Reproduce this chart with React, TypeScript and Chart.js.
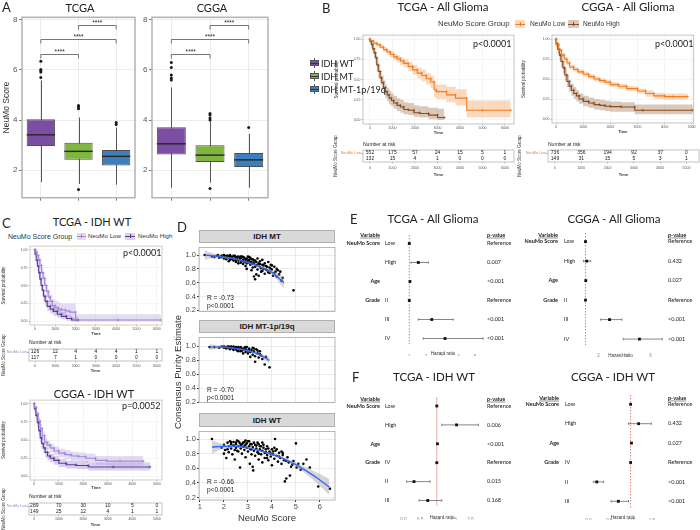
import React, { useEffect, useRef } from 'react';
import { Chart, registerables } from 'chart.js';

Chart.register(...registerables);

const SANS = '"Liberation Sans", Arial, sans-serif';
const CAL = 'Lato, "Open Sans", sans-serif';
Chart.defaults.font.family = SANS;

/* ---------------- Panel A: NeuMo score box plots ---------------- */
const groups = ['IDH WT', 'IDH MT', 'IDH MT-1p/19q'];
const groupColors = ['#7b4ea4', '#80b53f', '#3c7fbd'];
const scoreTicks = [2, 4, 6, 8];
const tcgaQ1 = [2.96, 2.41, 2.19];
const tcgaMedian = [3.41, 2.75, 2.55];
const tcgaQ3 = [4.03, 3.09, 2.8];
const tcgaLowWhisker = [1.52, 1.45, 1.42];
const tcgaHighWhisker = [5.58, 4.1, 3.7];
const tcgaOutlierGroup = ['IDH WT', 'IDH WT', 'IDH WT', 'IDH WT', 'IDH WT', 'IDH MT', 'IDH MT', 'IDH MT', 'IDH MT', 'IDH MT-1p/19q', 'IDH MT-1p/19q'];
const tcgaOutlierValue = [5.7, 5.92, 5.97, 6.02, 6.35, 4.45, 4.52, 4.58, 1.23, 3.82, 3.9];
const cggaQ1 = [2.62, 2.32, 2.13];
const cggaMedian = [3.05, 2.6, 2.41];
const cggaQ3 = [3.71, 2.99, 2.68];
const cggaLowWhisker = [1.3, 1.5, 1.3];
const cggaHighWhisker = [5.3, 3.95, 3.45];
const cggaOutlierGroup = ['IDH WT', 'IDH WT', 'IDH WT', 'IDH WT', 'IDH WT', 'IDH MT', 'IDH MT', 'IDH MT', 'IDH MT', 'IDH MT', 'IDH MT-1p/19q'];
const cggaOutlierValue = [5.6, 5.68, 5.8, 6.1, 6.3, 4.0, 4.08, 4.2, 4.26, 1.27, 3.7];
const bracketFrom = [0, 0, 1];
const bracketTo = [1, 2, 2];
const bracketLevel = [6.62, 7.22, 7.81];
const bracketLabel = ['****', '****', '****'];

/* ---------------- Panels B/C: Kaplan-Meier ---------------- */
const survTicks = [0, 0.25, 0.5, 0.75, 1];
const timeTicks6 = [0, 1000, 2000, 3000, 4000, 5000, 6000];
const timeTicks5 = [0, 1000, 2000, 3000, 4000, 5000];
const riskRows = ['NeuMo Low', 'NeuMo High'];

const bTcgaLowTime = [0, 150, 300, 450, 600, 750, 900, 1050, 1200, 1350, 1500, 1700, 1900, 2100, 2300, 2500, 2700, 2850, 2950, 3400, 3800, 4300, 5000, 6250];
const bTcgaLowSurv = [1, 0.98, 0.95, 0.93, 0.9, 0.87, 0.84, 0.81, 0.78, 0.755, 0.73, 0.7, 0.66, 0.62, 0.58, 0.55, 0.51, 0.47, 0.37, 0.35, 0.31, 0.27, 0.12, 0.12];
const bTcgaLowUpper = [1, 0.99, 0.97, 0.95, 0.93, 0.9, 0.87, 0.85, 0.82, 0.8, 0.78, 0.75, 0.72, 0.68, 0.65, 0.62, 0.58, 0.55, 0.46, 0.44, 0.41, 0.38, 0.24, 0.24];
const bTcgaLowLower = [1, 0.97, 0.93, 0.91, 0.88, 0.84, 0.81, 0.77, 0.74, 0.71, 0.68, 0.65, 0.6, 0.56, 0.51, 0.48, 0.44, 0.39, 0.28, 0.26, 0.22, 0.18, 0.03, 0.03];
const bTcgaHighTime = [0, 60, 120, 180, 240, 300, 370, 450, 520, 600, 680, 760, 850, 950, 1050, 1200, 1350, 1500, 1700, 1950, 2200, 2600, 3000, 3300];
const bTcgaHighSurv = [1, 0.97, 0.93, 0.88, 0.83, 0.77, 0.68, 0.6, 0.52, 0.46, 0.4, 0.35, 0.31, 0.27, 0.24, 0.21, 0.18, 0.16, 0.13, 0.12, 0.09, 0.08, 0.06, 0.03];
const bTcgaHighUpper = [1, 0.99, 0.97, 0.93, 0.89, 0.84, 0.76, 0.68, 0.61, 0.55, 0.49, 0.44, 0.4, 0.36, 0.33, 0.3, 0.27, 0.25, 0.22, 0.21, 0.18, 0.17, 0.15, 0.14];
const bTcgaHighLower = [1, 0.94, 0.89, 0.83, 0.77, 0.7, 0.6, 0.52, 0.44, 0.38, 0.32, 0.27, 0.23, 0.19, 0.17, 0.14, 0.11, 0.09, 0.07, 0.06, 0.04, 0.03, 0.01, 0];
const bTcgaRiskLow = [552, 175, 57, 24, 15, 5, 1];
const bTcgaRiskHigh = [132, 15, 4, 1, 0, 0, 0];

const bCggaLowTime = [0, 100, 200, 300, 400, 500, 650, 800, 1000, 1200, 1400, 1600, 1800, 2000, 2300, 2600, 3000, 3300, 3600, 4000, 4300, 4850];
const bCggaLowSurv = [1, 0.93, 0.86, 0.8, 0.75, 0.7, 0.65, 0.62, 0.59, 0.56, 0.53, 0.5, 0.48, 0.46, 0.43, 0.41, 0.38, 0.35, 0.32, 0.29, 0.28, 0.28];
const bCggaLowUpper = [1, 0.95, 0.89, 0.83, 0.78, 0.73, 0.68, 0.65, 0.62, 0.59, 0.56, 0.53, 0.51, 0.49, 0.46, 0.44, 0.41, 0.38, 0.36, 0.33, 0.32, 0.32];
const bCggaLowLower = [1, 0.91, 0.83, 0.77, 0.72, 0.67, 0.62, 0.59, 0.56, 0.53, 0.5, 0.47, 0.45, 0.43, 0.4, 0.38, 0.35, 0.32, 0.28, 0.25, 0.24, 0.24];
const bCggaHighTime = [0, 60, 120, 180, 250, 320, 400, 480, 560, 650, 750, 850, 1000, 1200, 1400, 1600, 1800, 2000, 2400, 2900, 3200, 5040];
const bCggaHighSurv = [1, 0.94, 0.87, 0.8, 0.72, 0.64, 0.55, 0.47, 0.41, 0.36, 0.32, 0.29, 0.25, 0.22, 0.2, 0.18, 0.17, 0.16, 0.155, 0.15, 0.11, 0.11];
const bCggaHighUpper = [1, 0.98, 0.92, 0.86, 0.79, 0.71, 0.63, 0.55, 0.49, 0.44, 0.4, 0.36, 0.32, 0.29, 0.27, 0.25, 0.24, 0.23, 0.22, 0.21, 0.18, 0.18];
const bCggaHighLower = [1, 0.9, 0.82, 0.74, 0.65, 0.57, 0.48, 0.4, 0.34, 0.29, 0.25, 0.22, 0.19, 0.16, 0.14, 0.12, 0.11, 0.1, 0.09, 0.09, 0.06, 0.06];
const bCggaRiskLow = [736, 356, 194, 92, 37, 0];
const bCggaRiskHigh = [149, 31, 15, 5, 3, 1];

const cTcgaLowTime = [0, 80, 160, 240, 320, 400, 480, 560, 650, 750, 850, 1000, 1150, 1300, 1500, 1700, 2000, 4100, 6200];
const cTcgaLowSurv = [1, 0.97, 0.92, 0.86, 0.78, 0.68, 0.6, 0.5, 0.42, 0.34, 0.28, 0.22, 0.19, 0.17, 0.16, 0.145, 0.13, 0.02, 0.02];
const cTcgaLowUpper = [1, 1, 0.97, 0.92, 0.85, 0.76, 0.68, 0.59, 0.51, 0.43, 0.37, 0.31, 0.28, 0.26, 0.25, 0.25, 0.25, 0.1, 0.1];
const cTcgaLowLower = [1, 0.93, 0.87, 0.8, 0.71, 0.61, 0.52, 0.42, 0.34, 0.27, 0.21, 0.15, 0.12, 0.1, 0.09, 0.07, 0.05, 0, 0];
const cTcgaHighTime = [0, 60, 120, 180, 240, 300, 360, 420, 500, 600, 750, 900, 1100, 1300, 1550, 1800, 2130];
const cTcgaHighSurv = [1, 0.94, 0.85, 0.77, 0.68, 0.59, 0.5, 0.43, 0.35, 0.28, 0.21, 0.17, 0.14, 0.1, 0.07, 0.04, 0.02];
const cTcgaHighUpper = [1, 0.98, 0.91, 0.84, 0.76, 0.67, 0.58, 0.51, 0.43, 0.36, 0.28, 0.24, 0.21, 0.17, 0.13, 0.09, 0.06];
const cTcgaHighLower = [1, 0.9, 0.79, 0.7, 0.61, 0.52, 0.43, 0.36, 0.28, 0.21, 0.15, 0.11, 0.08, 0.05, 0.03, 0.01, 0];
const cTcgaRiskLow = [126, 12, 4, 4, 4, 1, 1];
const cTcgaRiskHigh = [117, 7, 1, 0, 0, 0, 0];

const cCggaLowTime = [0, 80, 160, 240, 320, 420, 520, 650, 800, 1000, 1250, 1500, 1800, 2100, 2500, 2950, 3500, 4450];
const cCggaLowSurv = [1, 0.95, 0.86, 0.76, 0.66, 0.56, 0.47, 0.43, 0.39, 0.35, 0.32, 0.3, 0.28, 0.27, 0.25, 0.22, 0.21, 0.21];
const cCggaLowUpper = [1, 0.98, 0.9, 0.81, 0.72, 0.62, 0.53, 0.49, 0.45, 0.41, 0.38, 0.36, 0.34, 0.33, 0.31, 0.28, 0.28, 0.28];
const cCggaLowLower = [1, 0.92, 0.82, 0.71, 0.61, 0.5, 0.41, 0.37, 0.33, 0.29, 0.26, 0.24, 0.22, 0.21, 0.19, 0.16, 0.15, 0.15];
const cCggaHighTime = [0, 60, 120, 180, 240, 300, 370, 440, 540, 650, 800, 1000, 1300, 1700, 2200, 3220, 4720];
const cCggaHighSurv = [1, 0.93, 0.84, 0.74, 0.63, 0.53, 0.45, 0.39, 0.33, 0.28, 0.25, 0.22, 0.18, 0.16, 0.15, 0.13, 0.13];
const cCggaHighUpper = [1, 0.97, 0.89, 0.8, 0.7, 0.6, 0.52, 0.46, 0.4, 0.35, 0.31, 0.28, 0.24, 0.22, 0.21, 0.19, 0.19];
const cCggaHighLower = [1, 0.89, 0.79, 0.68, 0.57, 0.46, 0.38, 0.32, 0.26, 0.22, 0.19, 0.16, 0.13, 0.11, 0.1, 0.08, 0.08];
const cCggaRiskLow = [289, 70, 30, 10, 5, 0];
const cCggaRiskHigh = [149, 25, 12, 4, 1, 1];

/* ---------------- Panel D: purity vs NeuMo score ---------------- */
const purityTicks = [0.2, 0.4, 0.6, 0.8, 1.0];
const scoreXTicks = [1, 2, 3, 4, 5, 6];
const dMtX = [1.2, 1.5, 1.6, 1.7, 1.8, 1.85, 1.9, 1.95, 2.0, 2.05, 2.1, 2.1, 2.15, 2.2, 2.2, 2.25, 2.3, 2.3, 2.35, 2.4, 2.4, 2.45, 2.5, 2.5, 2.55, 2.6, 2.6, 2.6, 2.65, 2.7, 2.7, 2.75, 2.8, 2.8, 2.85, 2.9, 2.9, 2.95, 2.95, 3.0, 3.0, 3.05, 3.1, 3.1, 3.15, 3.15, 3.2, 3.2, 3.25, 3.25, 3.3, 3.3, 3.35, 3.35, 3.4, 3.4, 3.45, 3.45, 3.5, 3.5, 3.55, 3.6, 3.6, 3.65, 3.7, 3.7, 3.75, 3.8, 3.85, 3.9, 3.9, 3.95, 4.0, 4.05, 4.1, 4.15, 4.2, 4.3, 4.45, 4.9,
  1.75, 1.9, 2.0, 2.1, 2.2, 2.25, 2.35, 2.45, 2.5, 2.55, 2.65, 2.7, 2.75, 2.8, 2.85, 2.9, 2.95, 3.0, 3.05, 3.1, 3.15, 3.2, 3.25, 3.3, 3.35, 3.4, 3.5, 3.55, 3.6, 3.65, 3.75, 3.8, 3.85, 3.95, 4.0, 4.1, 4.2, 4.25, 4.35, 4.4];
const dMtY = [1.0, 0.98, 0.97, 0.99, 0.96, 0.98, 0.97, 0.99, 0.95, 0.98, 0.97, 0.94, 0.99, 0.96, 0.91, 0.93, 0.98, 0.95, 0.97, 0.92, 0.99, 0.95, 0.97, 0.9, 0.94, 0.98, 0.92, 0.88, 0.96, 0.89, 0.95, 0.98, 0.93, 0.87, 0.96, 0.91, 0.84, 0.95, 0.8, 0.98, 0.89, 0.93, 0.86, 0.96, 0.9, 0.78, 0.82, 0.94, 0.69, 0.88, 0.65, 0.92, 0.85, 0.72, 0.79, 0.95, 0.88, 0.7, 0.83, 0.91, 0.76, 0.86, 0.93, 0.8, 0.88, 0.73, 0.84, 0.78, 0.9, 0.82, 0.74, 0.86, 0.79, 0.7, 0.83, 0.76, 0.8, 0.72, 0.67, 0.49,
  1.0, 0.99, 1.0, 0.99, 0.98, 1.0, 0.94, 0.99, 0.93, 0.97, 0.93, 0.98, 0.91, 0.97, 0.9, 0.94, 0.88, 0.92, 0.97, 0.9, 0.94, 0.87, 0.92, 0.83, 0.9, 0.86, 0.87, 0.81, 0.77, 0.85, 0.79, 0.83, 0.75, 0.8, 0.85, 0.74, 0.69, 0.78, 0.76, 0.63];
const dMtFitX = [1.2, 1.5, 2, 2.5, 3, 3.5, 4, 4.5];
const dMtFitY = [1.0, 0.99, 0.97, 0.94, 0.89, 0.83, 0.75, 0.6];
const dMtFitUpper = [1.07, 1.03, 0.99, 0.955, 0.905, 0.85, 0.78, 0.68];
const dMtFitLower = [0.93, 0.95, 0.95, 0.925, 0.875, 0.81, 0.72, 0.52];

const dCodelX = [1.4, 1.6, 1.8, 1.9, 2.0, 2.05, 2.1, 2.15, 2.2, 2.25, 2.3, 2.35, 2.4, 2.45, 2.5, 2.5, 2.55, 2.6, 2.65, 2.7, 2.7, 2.75, 2.8, 2.85, 2.9, 2.9, 2.95, 3.0, 3.0, 3.05, 3.1, 3.15, 3.2, 3.2, 3.25, 3.3, 3.3, 3.35, 3.4, 3.45, 3.5, 3.55, 3.6, 3.7, 3.75, 3.9, 2.8, 2.6, 3.1, 2.4, 2.0, 2.3, 2.6, 2.9, 3.05, 3.25, 3.4, 3.5, 2.2, 2.75];
const dCodelY = [0.99, 0.99, 0.98, 1.0, 0.98, 0.99, 0.97, 1.0, 0.98, 0.96, 0.99, 0.97, 1.0, 0.98, 0.96, 0.99, 0.94, 0.98, 0.96, 0.99, 0.93, 0.97, 0.95, 0.98, 0.92, 0.96, 0.99, 0.94, 0.9, 0.97, 0.92, 0.95, 0.88, 0.98, 0.93, 0.86, 0.78, 0.96, 0.9, 0.84, 0.93, 0.87, 0.82, 0.74, 0.85, 0.7, 0.9, 0.93, 0.85, 0.95, 1.0, 1.0, 0.99, 0.99, 0.95, 0.97, 0.94, 0.89, 1.0, 0.94];
const dCodelFitX = [1.4, 2, 2.5, 3, 3.5, 3.9];
const dCodelFitY = [0.99, 0.99, 0.97, 0.94, 0.88, 0.8];
const dCodelFitUpper = [1.03, 1.005, 0.98, 0.952, 0.9, 0.85];
const dCodelFitLower = [0.95, 0.975, 0.96, 0.928, 0.86, 0.75];

const dWtX = [1.5, 1.9, 2.0, 2.05, 2.1, 2.15, 2.2, 2.2, 2.25, 2.3, 2.3, 2.35, 2.4, 2.4, 2.45, 2.5, 2.5, 2.55, 2.6, 2.6, 2.65, 2.67, 2.7, 2.7, 2.75, 2.8, 2.8, 2.85, 2.9, 2.9, 2.95, 3.0, 3.0, 3.05, 3.08, 3.1, 3.1, 3.15, 3.2, 3.22, 3.25, 3.3, 3.3, 3.35, 3.4, 3.4, 3.45, 3.5, 3.5, 3.55, 3.6, 3.6, 3.65, 3.7, 3.7, 3.75, 3.8, 3.8, 3.85, 3.9, 3.95, 4.0, 4.0, 4.05, 4.1, 4.13, 4.15, 4.2, 4.25, 4.3, 4.35, 4.4, 4.45, 4.5, 4.54, 4.6, 4.65, 4.7, 4.75, 4.8, 4.9, 5.0, 5.03, 5.1, 5.2, 5.31, 5.44, 5.58, 5.93, 6.42, 2.0, 2.45, 3.2, 2.9, 3.6,
  2.3, 2.5, 2.6, 2.75, 2.85, 2.95, 3.05, 3.15, 3.25, 3.35, 3.45, 3.55, 3.65, 3.75, 3.85, 3.95, 4.05, 4.2, 4.3, 4.45, 2.15, 2.55, 2.85, 3.15, 3.45, 3.8, 4.1, 4.4, 4.6, 4.85];
const dWtY = [1.0, 0.88, 0.92, 0.85, 0.74, 0.95, 0.9, 0.82, 0.97, 0.87, 0.93, 0.79, 0.91, 0.96, 0.85, 0.93, 0.88, 0.98, 0.9, 0.83, 0.95, 0.61, 0.87, 0.92, 0.8, 0.95, 0.89, 0.85, 0.92, 0.75, 0.88, 0.97, 0.83, 0.9, 0.66, 0.86, 0.93, 0.79, 0.89, 0.57, 0.84, 0.92, 0.77, 0.87, 0.82, 0.95, 0.72, 0.86, 0.9, 0.79, 0.84, 0.68, 0.88, 0.81, 0.74, 0.86, 0.78, 0.9, 0.71, 0.83, 0.76, 0.86, 0.64, 0.79, 0.73, 1.0, 0.84, 0.77, 0.69, 0.81, 0.74, 0.66, 0.78, 0.71, 0.42, 0.46, 0.75, 0.68, 0.5, 0.62, 0.7, 0.94, 0.61, 0.66, 0.58, 0.66, 0.72, 0.61, 0.35, 0.32, 0.8, 0.72, 0.62, 0.98, 0.95,
  0.96, 0.95, 0.97, 0.93, 0.96, 0.94, 0.97, 0.93, 0.95, 0.91, 0.93, 0.9, 0.92, 0.82, 0.87, 0.8, 0.83, 0.86, 0.76, 0.81, 0.86, 0.84, 0.9, 0.86, 0.8, 0.74, 0.88, 0.83, 0.7, 0.65];
const dWtFitX = [1.5, 2, 2.5, 3, 3.5, 4, 4.5, 5, 5.5, 6, 6.4];
const dWtFitY = [0.89, 0.9, 0.9, 0.88, 0.84, 0.79, 0.73, 0.65, 0.55, 0.44, 0.34];
const dWtFitUpper = [0.98, 0.93, 0.915, 0.893, 0.853, 0.805, 0.75, 0.68, 0.6, 0.52, 0.45];
const dWtFitLower = [0.8, 0.87, 0.885, 0.867, 0.827, 0.775, 0.71, 0.62, 0.5, 0.36, 0.23];

/* ---------------- Panels E/F: Cox forest plots ---------------- */
const forestVars = ['NeuMo Score', '', 'Age', 'Grade', '', ''];
const eTcgaLevels = ['Low', 'High', '', 'II', 'III', 'IV'];
const eTcgaHR = [1, 1.55, 1.04, 1, 2.37, 3.18];
const eTcgaLo = [null, 1.1, null, null, 1.55, 1.85];
const eTcgaHi = [null, 2.16, null, null, 3.68, 5.5];
const eTcgaP = ['Reference', '0.007', '<0.001', 'Reference', '<0.001', '<0.001'];
const eCggaLevels = ['Low', 'High', '', 'II', 'III', 'IV'];
const eCggaHR = [1, 1.1, 1.02, 1, 2.85, 5.15];
const eCggaLo = [null, 0.85, null, null, 2.17, 3.9];
const eCggaHi = [null, 1.4, null, null, 3.8, 6.9];
const eCggaP = ['Reference', '0.432', '0.027', 'Reference', '<0.001', '<0.001'];
const fTcgaLevels = ['Low', 'High', '', 'IV', 'II', 'III'];
const fTcgaHR = [1, 1.59, 1.02, 1, 0.32, 0.73];
const fTcgaLo = [null, 1.15, null, null, 0.1, 0.47];
const fTcgaHi = [null, 2.24, null, null, 0.8, 1.15];
const fTcgaP = ['Reference', '0.006', '<0.001', 'Reference', '0.015', '0.168'];
const fCggaLevels = ['Low', 'High', '', 'IV', 'II', 'III'];
const fCggaHR = [1, 1.19, 1.02, 1, 0.2, 0.71];
const fCggaLo = [null, 0.95, null, null, 0.12, 0.54];
const fCggaHi = [null, 1.49, null, null, 0.36, 0.95];
const fCggaP = ['Reference', '0.432', '0.027', 'Reference', '<0.001', '<0.001'];
const hrTicksE1 = [1, 2, 3, 4, 5];
const hrTicksE2 = [2, 4, 6];
const hrTicksF = [0, 0.5, 1, 1.5, 2];
const hrTicksF2 = [0, 0.5, 1, 1.5];

/* ---------------- helpers ---------------- */
function place(ax0: number, ay0: number, ax1: number, ay1: number, left: number, xh: number, top = 2, right = 2, padLeft = 0, bottom = 0) {
  return { x: ax0 - left - padLeft, y: ay0 - top, w: ax1 - ax0 + left + padLeft + right, h: ay1 - ay0 + top + xh + bottom, left, xh, top, right, padLeft, bottom };
}
const yFixed = (w: number) => (s: any) => { s.width = w; };
const xFixed = (h: number) => (s: any) => { s.height = h; };
const fixedTicks = (vals: number[]) => (s: any) => { s.ticks = vals.map((v) => ({ value: v })); };

function baseOptions(b: any) {
  return {
    animation: false,
    responsive: false,
    maintainAspectRatio: false,
    devicePixelRatio: 1,
    events: [],
    layout: { autoPadding: false, padding: { left: b.padLeft, top: b.top, right: b.right, bottom: b.bottom } },
    plugins: { legend: { display: false }, tooltip: { enabled: false }, title: { display: false } },
  };
}

function framePlugin(id: string, color: string, width: number) {
  return {
    id,
    afterDatasetsDraw(chart: any) {
      const { ctx, chartArea: a } = chart;
      ctx.save();
      ctx.strokeStyle = color;
      ctx.lineWidth = width;
      ctx.strokeRect(a.left, a.top, a.right - a.left, a.bottom - a.top);
      ctx.restore();
    },
  };
}

function boxPlugin(d: any) {
  return {
    id: 'boxExtras',
    beforeDatasetsDraw(chart: any) {
      const { ctx, scales } = chart;
      ctx.save();
      ctx.strokeStyle = '#555';
      ctx.lineWidth = 1;
      d.lo.forEach((v: number, i: number) => {
        const px = Math.round(scales.x.getPixelForValue(i)) + 0.5;
        ctx.beginPath();
        ctx.moveTo(px, scales.y.getPixelForValue(v));
        ctx.lineTo(px, scales.y.getPixelForValue(d.hi[i]));
        ctx.stroke();
      });
      ctx.restore();
    },
    afterDatasetsDraw(chart: any) {
      const { ctx, scales } = chart;
      const bars = chart.getDatasetMeta(1).data;
      ctx.save();
      ctx.strokeStyle = '#262626';
      ctx.lineWidth = 1.4;
      d.med.forEach((v: number, i: number) => {
        const b = bars[i];
        const py = scales.y.getPixelForValue(v);
        ctx.beginPath();
        ctx.moveTo(b.x - b.width / 2, py);
        ctx.lineTo(b.x + b.width / 2, py);
        ctx.stroke();
      });
      ctx.strokeStyle = '#555';
      ctx.lineWidth = 0.8;
      ctx.fillStyle = '#222';
      ctx.font = `6.5px ${SANS}`;
      ctx.textAlign = 'center';
      ctx.textBaseline = 'bottom';
      bracketLevel.forEach((lv, k) => {
        const x1 = scales.x.getPixelForValue(bracketFrom[k]);
        const x2 = scales.x.getPixelForValue(bracketTo[k]);
        const py = Math.round(scales.y.getPixelForValue(lv)) + 0.5;
        ctx.beginPath();
        ctx.moveTo(x1, py + 4);
        ctx.lineTo(x1, py);
        ctx.lineTo(x2, py);
        ctx.lineTo(x2, py + 4);
        ctx.stroke();
        ctx.fillText(bracketLabel[k], (x1 + x2) / 2, py + 0.5);
      });
      ctx.restore();
    },
  };
}

function boxConfig(b: any, d: any) {
  return {
    type: 'bar',
    data: {
      labels: groups,
      datasets: [
        { type: 'line', data: d.outG.map((g: string, i: number) => ({ x: g, y: d.outV[i] })), showLine: false, pointRadius: 1.5, pointBackgroundColor: '#1a1a1a', pointBorderWidth: 0 },
        { type: 'bar', data: d.q1.map((v: number, i: number) => [v, d.q3[i]]), backgroundColor: groupColors, borderColor: '#4f4f4f', borderWidth: 1, borderSkipped: false, barPercentage: 0.75, categoryPercentage: 1 },
      ],
    },
    options: {
      ...baseOptions(b),
      scales: {
        x: { type: 'category', offset: true, grid: { offset: false, color: '#ececec', tickLength: 3, tickColor: '#777' }, border: { display: false }, ticks: { callback: () => '', padding: 0 }, afterFit: xFixed(b.xh) },
        y: {
          type: 'linear', min: 0.9, max: 8.1, afterBuildTicks: fixedTicks(scoreTicks),
          ticks: { font: { family: SANS, size: 8 }, color: '#555', padding: 1.5 },
          grid: { color: '#ececec', tickLength: 3, tickColor: '#777' }, border: { display: false },
          title: { display: !!d.title, text: d.title || '', font: { family: SANS, size: 8.5 }, color: '#333', padding: { top: 1.5, bottom: 0 } },
          afterFit: yFixed(b.left),
        },
      },
    },
    plugins: [boxPlugin(d), framePlugin('frameA', '#b3b3b3', 1.5)],
  };
}

function timeAxis(b: any, d: any, pad: number) {
  return {
    type: 'linear', min: d.xmin, max: d.xmax, afterBuildTicks: fixedTicks(d.xticks),
    ticks: { font: { family: SANS, size: 3.5 }, color: '#555', padding: pad, autoSkip: false, maxRotation: 0, callback: (v: any) => String(v) },
    grid: { color: '#eeeeee', lineWidth: 0.6, tickLength: 1.5, tickColor: '#999' }, border: { display: false },
    title: { display: true, text: 'Time', font: { family: SANS, size: 4, weight: 'bold' }, color: '#333', padding: 0 },
    afterFit: xFixed(b.xh),
  };
}

function kmConfig(b: any, d: any) {
  const pts = (t: number[], v: number[]) => t.map((x, i) => ({ x, y: v[i] }));
  const curve = (t: number[], s: number[], c: string) => ({ data: pts(t, s), stepped: 'after', borderColor: c, borderWidth: 1.1, pointStyle: 'cross', pointRadius: 1.4, pointBorderColor: c, pointBorderWidth: 0.7, pointBackgroundColor: c, fill: false });
  const band = (t: number[], v: number[], fill: any, bg: string) => ({ data: pts(t, v), stepped: 'after', borderWidth: 0, borderColor: 'rgba(0,0,0,0)', pointRadius: 0, fill, backgroundColor: bg });
  return {
    type: 'line',
    data: {
      datasets: [
        curve(d.lowT, d.lowS, d.lowColor),
        curve(d.highT, d.highS, d.highColor),
        band(d.lowT, d.lowUp, false, 'rgba(0,0,0,0)'),
        band(d.lowT, d.lowLo, '-1', d.lowBand),
        band(d.highT, d.highUp, false, 'rgba(0,0,0,0)'),
        band(d.highT, d.highLo, '-1', d.highBand),
      ],
    },
    options: {
      ...baseOptions(b),
      scales: {
        x: timeAxis(b, d, d.tickPad),
        y: {
          type: 'linear', min: -0.05, max: 1.05, afterBuildTicks: fixedTicks(survTicks),
          ticks: { font: { family: SANS, size: 3.5 }, color: '#555', padding: 1, callback: (v: any) => Number(v).toFixed(2) },
          grid: { color: '#eeeeee', lineWidth: 0.6, tickLength: 1.5, tickColor: '#999' }, border: { display: false },
          title: { display: true, text: 'Survival probability', font: { family: SANS, size: 4.5 }, color: '#333', padding: { top: 1, bottom: 0 } },
          afterFit: yFixed(b.left),
        },
      },
    },
    plugins: [framePlugin('frameKM', d.frame, 0.8)],
  };
}

function riskPlugin(b: any, d: any) {
  return {
    id: 'riskText',
    afterDraw(chart: any) {
      const { ctx, chartArea: a } = chart;
      ctx.save();
      ctx.fillStyle = '#222';
      ctx.textAlign = 'center';
      ctx.textBaseline = 'middle';
      ctx.font = `5px ${SANS}`;
      [d.low, d.high].forEach((vals: number[], k: number) => {
        chart.getDatasetMeta(k).data.forEach((p: any, i: number) => ctx.fillText(String(vals[i]), p.x, p.y));
      });
      ctx.textAlign = 'left';
      ctx.font = `5px ${SANS}`;
      ctx.fillText('Number at risk', a.left, d.headY - b.y);
      ctx.translate(d.titleX - b.x, (a.top + a.bottom) / 2);
      ctx.rotate(-Math.PI / 2);
      ctx.textAlign = 'center';
      ctx.font = `4.5px ${SANS}`;
      ctx.fillStyle = '#333';
      ctx.fillText('NeuMo Score Group', 0, 0);
      ctx.restore();
    },
  };
}

function riskConfig(b: any, d: any) {
  return {
    type: 'scatter',
    data: {
      datasets: [
        { data: d.t.map((x: number) => ({ x, y: riskRows[0] })), pointRadius: 0 },
        { data: d.t.map((x: number) => ({ x, y: riskRows[1] })), pointRadius: 0 },
      ],
    },
    options: {
      ...baseOptions(b),
      scales: {
        x: timeAxis(b, d, d.tickPad),
        y: {
          type: 'category', labels: riskRows, offset: true,
          grid: { drawOnChartArea: false, tickLength: 1.5, tickColor: '#999' }, border: { display: false },
          ticks: { font: { family: SANS, size: 3.8 }, color: (c: any) => (c.index === 0 ? d.lowColor : d.highColor), padding: 0.5 },
          afterFit: yFixed(b.left),
        },
      },
    },
    plugins: [riskPlugin(b, d), framePlugin('frameRisk', '#b5b5b5', 0.8)],
  };
}

function scatterConfig(b: any, d: any) {
  const pts = d.px.map((x: number, i: number) => ({ x, y: d.py[i] }));
  const fit = (ys: number[]) => d.fx.map((x: number, i: number) => ({ x, y: ys[i] }));
  return {
    type: 'scatter',
    data: {
      datasets: [
        { type: 'line', data: fit(d.fy), borderColor: '#3366ff', borderWidth: 1.3, pointRadius: 0, cubicInterpolationMode: 'monotone', fill: false },
        { type: 'line', data: fit(d.fu), borderWidth: 0, borderColor: 'rgba(0,0,0,0)', pointRadius: 0, cubicInterpolationMode: 'monotone', fill: false },
        { type: 'line', data: fit(d.fl), borderWidth: 0, borderColor: 'rgba(0,0,0,0)', pointRadius: 0, cubicInterpolationMode: 'monotone', fill: '-1', backgroundColor: 'rgba(150,150,150,0.4)' },
        { data: pts, pointRadius: 1.3, backgroundColor: '#000', borderWidth: 0 },
      ],
    },
    options: {
      ...baseOptions(b),
      scales: {
        x: {
          type: 'linear', min: 0.96, max: 6.63, afterBuildTicks: fixedTicks(scoreXTicks),
          ticks: { display: d.showX, font: { family: SANS, size: 7.5 }, color: '#4d4d4d', padding: 0.2 },
          grid: { color: '#ebebeb', drawTicks: d.showX, tickLength: 2, tickColor: '#333' }, border: { display: false },
          title: { display: d.showX, text: 'NeuMo Score', font: { family: SANS, size: 9.5 }, color: '#333', padding: 0 },
          afterFit: xFixed(b.xh),
        },
        y: {
          type: 'linear', min: d.ymin, max: d.ymax, afterBuildTicks: fixedTicks(purityTicks),
          ticks: { font: { family: SANS, size: 7.5 }, color: '#4d4d4d', padding: 1, callback: (v: any) => Number(v).toFixed(1) },
          grid: { color: '#ebebeb', tickLength: 2, tickColor: '#333' }, border: { display: false },
          afterFit: yFixed(b.left),
        },
      },
    },
    plugins: [framePlugin('frameD', '#a6a6a6', 0.8)],
  };
}

function forestPlugin(b: any, d: any) {
  return {
    id: 'forestExtras',
    beforeDatasetsDraw(chart: any) {
      const { ctx, chartArea: a, scales } = chart;
      ctx.save();
      const rx = scales.x.getPixelForValue(1);
      ctx.strokeStyle = d.refColor;
      ctx.lineWidth = d.refWidth;
      ctx.setLineDash(d.refDash);
      ctx.beginPath();
      ctx.moveTo(rx, a.top);
      ctx.lineTo(rx, a.bottom);
      ctx.stroke();
      ctx.setLineDash([]);
      ctx.strokeStyle = '#555';
      ctx.lineWidth = 0.7;
      d.lo.forEach((l: any, i: number) => {
        if (l == null) return;
        const py = scales.y.getPixelForValue(i);
        const x1 = scales.x.getPixelForValue(l);
        const x2 = scales.x.getPixelForValue(d.hi[i]);
        ctx.beginPath();
        ctx.moveTo(x1, py); ctx.lineTo(x2, py);
        ctx.moveTo(x1, py - 1.2); ctx.lineTo(x1, py + 1.2);
        ctx.moveTo(x2, py - 1.2); ctx.lineTo(x2, py + 1.2);
        ctx.stroke();
      });
      ctx.restore();
    },
    afterDraw(chart: any) {
      const { ctx, scales } = chart;
      ctx.save();
      ctx.fillStyle = '#222';
      ctx.strokeStyle = '#222';
      ctx.lineWidth = 0.5;
      ctx.textBaseline = 'middle';
      const txt = (s: string, px: number, py: number, align: string, bold: boolean, under: boolean) => {
        ctx.font = `${bold ? 'bold ' : ''}5.5px ${CAL}`;
        ctx.textAlign = align;
        ctx.fillText(s, px, py);
        if (under) {
          const w = ctx.measureText(s).width;
          const x0 = align === 'right' ? px - w : px;
          ctx.beginPath();
          ctx.moveTo(x0, py + 3);
          ctx.lineTo(x0 + w, py + 3);
          ctx.stroke();
        }
      };
      txt('Variable', d.varX - b.x, d.headY - b.y, 'right', true, true);
      txt('p-value', d.pX - b.x, d.headY - b.y, 'left', true, true);
      forestVars.forEach((v, i) => {
        const py = scales.y.getPixelForValue(i);
        if (v) txt(v, d.varX - b.x, py, 'right', true, false);
        if (d.levels[i]) txt(d.levels[i], d.lvlX - b.x, py, 'left', false, false);
        txt(d.p[i], d.pX - b.x, py, 'left', false, false);
      });
      ctx.restore();
    },
  };
}

function forestConfig(b: any, d: any) {
  return {
    type: 'scatter',
    data: { datasets: [{ data: d.hr.map((h: number, i: number) => ({ x: h, y: i })), pointStyle: 'rect', pointRadius: 2, backgroundColor: '#111', borderWidth: 0 }] },
    options: {
      ...baseOptions(b),
      scales: {
        x: {
          type: 'linear', min: d.xmin, max: d.xmax, afterBuildTicks: fixedTicks(d.ticks),
          ticks: { font: { family: SANS, size: 4.5 }, color: '#888', padding: d.tickPad, autoSkip: false, maxRotation: 0, callback: (v: any) => d.fmt(v) },
          grid: { display: false }, border: { display: false },
          title: { display: true, text: 'Hazard ratio', font: { family: SANS, size: 4.5 }, color: '#333', padding: 0 },
          afterFit: xFixed(b.xh),
        },
        y: { type: 'linear', reverse: true, min: d.ymin, max: d.ymax, display: false },
      },
    },
    plugins: [forestPlugin(b, d)],
  };
}

/* ---------------- components ---------------- */
function ChartCanvas({ b, make }: any) {
  const ref = useRef<HTMLCanvasElement | null>(null);
  useEffect(() => {
    if (!ref.current) return undefined;
    const chart = new Chart(ref.current, make(b));
    return () => chart.destroy();
  }, []);
  return <canvas ref={ref} width={b.w} height={b.h} style={{ position: 'absolute', left: b.x, top: b.y, width: b.w, height: b.h }} />;
}

function Txt({ x, y, text, size = 10, family = CAL, color = '#222', weight = 400, align = 'left', rotate = false }: any) {
  const tx = align === 'center' ? '-50%' : align === 'right' ? '-100%' : '0';
  const transform = rotate ? 'translate(-50%,-50%) rotate(-90deg)' : `translate(${tx},-50%)`;
  return (
    <div style={{ position: 'absolute', left: x, top: y, transform, whiteSpace: 'nowrap', fontFamily: family, fontSize: size, lineHeight: 1, color, fontWeight: weight }}>{text}</div>
  );
}

function BoxKey({ x, y, color }: any) {
  return (
    <div style={{ position: 'absolute', left: x, top: y - 5, width: 9, height: 10 }}>
      <div style={{ position: 'absolute', left: 4, top: 0, width: 1, height: 10, background: '#555' }} />
      <div style={{ position: 'absolute', left: 0, top: 2, width: 9, height: 6, background: color, border: '1px solid #555', boxSizing: 'border-box' }} />
      <div style={{ position: 'absolute', left: 0, top: 4.5, width: 9, height: 1, background: '#333' }} />
    </div>
  );
}

function KmKey({ x, y, w, h, bg, color }: any) {
  return (
    <div style={{ position: 'absolute', left: x, top: y - h / 2, width: w, height: h, background: bg }}>
      <div style={{ position: 'absolute', left: 0, top: h / 2 - 0.5, width: w, height: 1, background: color }} />
      <div style={{ position: 'absolute', left: w / 2 - 0.5, top: h / 2 - 2, width: 1, height: 4, background: color }} />
    </div>
  );
}

function Strip({ y, h, text }: any) {
  return (
    <div style={{ position: 'absolute', left: 199, top: y, width: 136, height: h, background: '#d9d9d9', border: '0.8px solid #b0b0b0', boxSizing: 'border-box', display: 'flex', alignItems: 'center', justifyContent: 'center', fontFamily: SANS, fontSize: 8, fontWeight: 700, color: '#1a1a1a' }}>{text}</div>
  );
}

const orange = '#f47d20';
const orangeBand = 'rgba(247,170,110,0.45)';
const brown = '#8c4a1e';
const brownBand = 'rgba(160,120,85,0.4)';
const lilac = '#9f86d6';
const lilacBand = 'rgba(175,150,220,0.35)';
const violet = '#5a3d9a';
const violetBand = 'rgba(130,100,190,0.3)';

export default function App() {
  const bA1 = place(22, 13, 135, 200, 22, 4, 2, 2);
  const bA2 = place(152, 13, 268, 200, 12, 4, 2, 2);
  const bB1 = place(363, 34, 514, 124, 30, 11, 2, 2);
  const bB1r = place(363, 150, 514, 162, 30, 15, 18, 2, 0, 4);
  const bB2 = place(552, 34, 694, 123, 32, 11, 2, 2);
  const bB2r = place(548, 150, 699, 162, 32, 15, 18, 1, 0, 4);
  const bC1 = place(30, 245, 162, 325, 30, 11, 2, 2);
  const bC1r = place(29, 349, 162, 361, 29, 12, 18, 2, 0, 6);
  const bC2 = place(30, 399, 162, 480, 30, 10, 2, 2);
  const bC2r = place(29, 503, 162, 515, 29, 12, 18, 2, 0, 6);
  const bD1 = place(199, 243, 335, 317, 20, 0, 1, 2);
  const bD2 = place(199, 333, 335, 408, 20, 0, 1, 2);
  const bD3 = place(199, 427, 335, 500, 20, 24, 1, 2);
  const bE1 = place(401, 235, 485, 344, 0, 12, 11, 30, 65);
  const bE2 = place(576, 233, 665, 345, 0, 13, 11, 35, 58);
  const bF1 = place(400, 397, 484, 506, 0, 14, 11, 31, 64);
  const bF2 = place(584, 395, 662, 508, 0, 12, 11, 38, 66);
  const fmtInt = (v: number) => String(v);
  const fmt1 = (v: number) => Number(v).toFixed(1);
  const dotted = { refColor: '#e05a5a', refWidth: 0.8, refDash: [1.5, 1.5] };

  return (
    <div style={{ position: 'fixed', left: 0, top: 0, width: 700, height: 530, background: '#fff', overflow: 'hidden' }}>
      {/* A */}
      <ChartCanvas b={bA1} make={(b: any) => boxConfig(b, { q1: tcgaQ1, med: tcgaMedian, q3: tcgaQ3, lo: tcgaLowWhisker, hi: tcgaHighWhisker, outG: tcgaOutlierGroup, outV: tcgaOutlierValue, title: 'NeuMo Score' })} />
      <ChartCanvas b={bA2} make={(b: any) => boxConfig(b, { q1: cggaQ1, med: cggaMedian, q3: cggaQ3, lo: cggaLowWhisker, hi: cggaHighWhisker, outG: cggaOutlierGroup, outV: cggaOutlierValue, title: '' })} />
      {/* B */}
      <ChartCanvas b={bB1} make={(b: any) => kmConfig(b, { xmin: -311, xmax: 6400, xticks: timeTicks6, tickPad: 0.4, lowT: bTcgaLowTime, lowS: bTcgaLowSurv, lowUp: bTcgaLowUpper, lowLo: bTcgaLowLower, highT: bTcgaHighTime, highS: bTcgaHighSurv, highUp: bTcgaHighUpper, highLo: bTcgaHighLower, lowColor: orange, highColor: brown, lowBand: orangeBand, highBand: brownBand, frame: '#b5b5b5' })} />
      <ChartCanvas b={bB1r} make={(b: any) => riskConfig(b, { xmin: -311, xmax: 6400, xticks: timeTicks6, tickPad: 2.4, t: timeTicks6, low: bTcgaRiskLow, high: bTcgaRiskHigh, lowColor: orange, highColor: brown, headY: 145, titleX: 336 })} />
      <ChartCanvas b={bB2} make={(b: any) => kmConfig(b, { xmin: -150, xmax: 5075, xticks: timeTicks5, tickPad: 0.4, lowT: bCggaLowTime, lowS: bCggaLowSurv, lowUp: bCggaLowUpper, lowLo: bCggaLowLower, highT: bCggaHighTime, highS: bCggaHighSurv, highUp: bCggaHighUpper, highLo: bCggaHighLower, lowColor: orange, highColor: brown, lowBand: orangeBand, highBand: brownBand, frame: '#b5b5b5' })} />
      <ChartCanvas b={bB2r} make={(b: any) => riskConfig(b, { xmin: -266, xmax: 5475, xticks: timeTicks5, tickPad: 2.4, t: timeTicks5, low: bCggaRiskLow, high: bCggaRiskHigh, lowColor: orange, highColor: brown, headY: 145, titleX: 520 })} />
      {/* C */}
      <ChartCanvas b={bC1} make={(b: any) => kmConfig(b, { xmin: -246, xmax: 6256, xticks: timeTicks6, tickPad: 0, lowT: cTcgaLowTime, lowS: cTcgaLowSurv, lowUp: cTcgaLowUpper, lowLo: cTcgaLowLower, highT: cTcgaHighTime, highS: cTcgaHighSurv, highUp: cTcgaHighUpper, highLo: cTcgaHighLower, lowColor: lilac, highColor: violet, lowBand: lilacBand, highBand: violetBand, frame: '#cdbdb2' })} />
      <ChartCanvas b={bC1r} make={(b: any) => riskConfig(b, { xmin: -296, xmax: 6256, xticks: timeTicks6, tickPad: 1.4, t: timeTicks6, low: cTcgaRiskLow, high: cTcgaRiskHigh, lowColor: lilac, highColor: violet, headY: 343, titleX: 4 })} />
      <ChartCanvas b={bC2} make={(b: any) => kmConfig(b, { xmin: -175, xmax: 5212, xticks: timeTicks5, tickPad: 0, lowT: cCggaLowTime, lowS: cCggaLowSurv, lowUp: cCggaLowUpper, lowLo: cCggaLowLower, highT: cCggaHighTime, highS: cCggaHighSurv, highUp: cCggaHighUpper, highLo: cCggaHighLower, lowColor: lilac, highColor: violet, lowBand: lilacBand, highBand: violetBand, frame: '#cdbdb2' })} />
      <ChartCanvas b={bC2r} make={(b: any) => riskConfig(b, { xmin: -216, xmax: 5212, xticks: timeTicks5, tickPad: 0.4, t: timeTicks5, low: cCggaRiskLow, high: cCggaRiskHigh, lowColor: lilac, highColor: violet, headY: 497, titleX: 4 })} />
      {/* D */}
      <ChartCanvas b={bD1} make={(b: any) => scatterConfig(b, { px: dMtX, py: dMtY, fx: dMtFitX, fy: dMtFitY, fu: dMtFitUpper, fl: dMtFitLower, ymin: 0.184, ymax: 1.109, showX: false })} />
      <ChartCanvas b={bD2} make={(b: any) => scatterConfig(b, { px: dCodelX, py: dCodelY, fx: dCodelFitX, fy: dCodelFitY, fu: dCodelFitUpper, fl: dCodelFitLower, ymin: 0.196, ymax: 1.128, showX: false })} />
      <ChartCanvas b={bD3} make={(b: any) => scatterConfig(b, { px: dWtX, py: dWtY, fx: dWtFitX, fy: dWtFitY, fu: dWtFitUpper, fl: dWtFitLower, ymin: 0.165, ymax: 1.103, showX: true })} />
      {/* E */}
      <ChartCanvas b={bE1} make={(b: any) => forestConfig(b, { hr: eTcgaHR, lo: eTcgaLo, hi: eTcgaHi, levels: eTcgaLevels, p: eTcgaP, xmin: 0.494, xmax: 5.616, ymin: -0.447, ymax: 5.289, ticks: hrTicksE1, fmt: fmtInt, tickPad: 1.6, varX: 380, lvlX: 385, pX: 487, headY: 235, ...dotted })} />
      <ChartCanvas b={bE2} make={(b: any) => forestConfig(b, { hr: eCggaHR, lo: eCggaLo, hi: eCggaHi, levels: eCggaLevels, p: eCggaP, xmin: 0.269, xmax: 7.115, ymin: -0.441, ymax: 5.303, ticks: hrTicksE2, fmt: fmtInt, tickPad: 0.5, varX: 558, lvlX: 564, pX: 668, headY: 235, ...dotted })} />
      {/* F */}
      <ChartCanvas b={bF1} make={(b: any) => forestConfig(b, { hr: fTcgaHR, lo: fTcgaLo, hi: fTcgaHi, levels: fTcgaLevels, p: fTcgaP, xmin: -0.0985, xmax: 2.409, ymin: -0.476, ymax: 5.291, ticks: hrTicksF, fmt: fmt1, tickPad: 3, varX: 380, lvlX: 385, pX: 487, headY: 399, refColor: '#f2aaaa', refWidth: 1, refDash: [] })} />
      <ChartCanvas b={bF2} make={(b: any) => forestConfig(b, { hr: fCggaHR, lo: fCggaLo, hi: fCggaHi, levels: fCggaLevels, p: fCggaP, xmin: -0.102, xmax: 1.742, ymin: -0.479, ymax: 5.345, ticks: hrTicksF2, fmt: fmt1, tickPad: 2, varX: 559, lvlX: 565, pX: 668, headY: 398, ...dotted })} />

      {/* Panel letters and titles */}
      <Txt x={2} y={7} text="A" size={13} />
      <Txt x={80} y={6.5} text="TCGA" size={11} align="center" />
      <Txt x={212} y={6.5} text="CGGA" size={11} align="center" />
      <BoxKey x={310} y={63} color={groupColors[0]} />
      <BoxKey x={310} y={76} color={groupColors[1]} />
      <BoxKey x={310} y={89} color={groupColors[2]} />
      <Txt x={321} y={63} text="IDH WT" size={9} />
      <Txt x={321} y={76} text="IDH MT" size={9} />
      <Txt x={321} y={89} text="IDH MT-1p/19q" size={9} />

      <Txt x={322} y={7.5} text="B" size={13} />
      <Txt x={443} y={7} text="TCGA - All Glioma" size={11.5} align="center" />
      <Txt x={628} y={6.5} text="CGGA - All Glioma" size={11.5} align="center" />
      <Txt x={438} y={24} text="NeuMo Score Group" size={7.8} family={SANS} color="#333" />
      <KmKey x={515} y={24} w={10} h={8} bg={orangeBand} color={orange} />
      <Txt x={530} y={24} text="NeuMo Low" size={6.6} family={SANS} color="#333" />
      <KmKey x={568} y={24} w={11} h={8} bg={brownBand} color={brown} />
      <Txt x={583} y={24} text="NeuMo High" size={6.6} family={SANS} color="#333" />
      <Txt x={473} y={43} text="p<0.0001" size={9} />
      <Txt x={655} y={43} text="p<0.0001" size={9} />

      <Txt x={2} y={223} text="C" size={13} />
      <Txt x={92} y={221} text="TCGA - IDH WT" size={11} align="center" />
      <Txt x={8} y={236} text="NeuMo Score Group" size={7} family={SANS} color="#333" />
      <KmKey x={77} y={236} w={9} h={7} bg={lilacBand} color={lilac} />
      <Txt x={88} y={236} text="NeuMo Low" size={6.2} family={SANS} color="#333" />
      <KmKey x={125} y={236} w={10} h={7} bg={violetBand} color={violet} />
      <Txt x={138} y={236} text="NeuMo High" size={6.2} family={SANS} color="#333" />
      <Txt x={123} y={252} text="p<0.0001" size={9} />
      <Txt x={94} y={393} text="CGGA - IDH WT" size={11} align="center" />
      <Txt x={122} y={405} text="p=0.0052" size={9} />

      <Txt x={177} y={227} text="D" size={13} />
      <Strip y={230} h={13} text="IDH MT" />
      <Strip y={320} h={13} text="IDH MT-1p/19q" />
      <Strip y={413} h={14} text="IDH WT" />
      <Txt x={178} y={372} text="Consensus Purity Estimate" size={9.5} family={SANS} color="#333" rotate />
      <Txt x={207} y={298} text="R = -0.73" size={6.5} family={SANS} />
      <Txt x={207} y={306} text="p<0.0001" size={6.5} family={SANS} />
      <Txt x={207} y={390} text="R = -0.70" size={6.5} family={SANS} />
      <Txt x={207} y={398} text="p<0.0001" size={6.5} family={SANS} />
      <Txt x={207} y={482} text="R = -0.66" size={6.5} family={SANS} />
      <Txt x={207} y={490} text="p<0.0001" size={6.5} family={SANS} />

      <Txt x={350} y={219} text="E" size={13} />
      <Txt x={433} y={219} text="TCGA - All Glioma" size={11.5} align="center" />
      <Txt x={614} y={219} text="CGGA - All Glioma" size={11.5} align="center" />
      <Txt x={352} y={377} text="F" size={13} />
      <Txt x={434} y={377} text="TCGA - IDH WT" size={11.5} align="center" />
      <Txt x={613} y={377} text="CGGA - IDH WT" size={11.5} align="center" />
    </div>
  );
}
